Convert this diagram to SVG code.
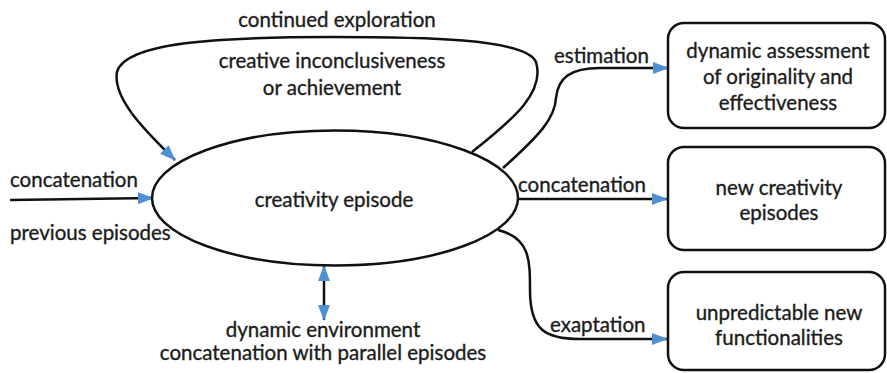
<svg xmlns="http://www.w3.org/2000/svg" width="887" height="373" viewBox="0 0 887 373">
<style>
text{font-family:Lato,"Liberation Sans",sans-serif;font-size:20.5px;fill:#1c1c1c;stroke:#1c1c1c;stroke-width:0.35px}
.m{text-anchor:middle}
.ln{fill:none;stroke:#111;stroke-width:2.5}
.box{fill:#fff;stroke:#111;stroke-width:2.5}
</style>
<defs>
<marker id="ah" markerWidth="16" markerHeight="12" refX="15" refY="6" orient="auto" markerUnits="userSpaceOnUse">
<path d="M0,0 L16,6 L0,12 Z" fill="#4f8fd2"/>
</marker>
<marker id="as" markerWidth="16" markerHeight="12" refX="15" refY="6" orient="auto-start-reverse" markerUnits="userSpaceOnUse">
<path d="M0,0 L16,6 L0,12 Z" fill="#4f8fd2"/>
</marker>
</defs>
<rect width="887" height="373" fill="#fff"/>
<g id="connectors">
<path class="ln" d="M472,152 C515,118 545,92 536,62 C526,38 420,37 330,37 C220,37 125,42 117,72 C112,100 150,135 175,160" marker-end="url(#ah)"/>
<path class="ln" d="M10,200 L153,198" marker-end="url(#ah)"/>
<path class="ln" d="M503,168 C540,135 555,118 556,98 C558,78 570,68 600,68 L668,68" marker-end="url(#ah)"/>
<path class="ln" d="M518,199 L667,199" marker-end="url(#ah)"/>
<path class="ln" d="M498,230 C530,238 530,260 530,290 C530,330 545,339 580,339 L667,339" marker-end="url(#ah)"/>
<path class="ln" d="M324,266 L324,320" marker-start="url(#as)" marker-end="url(#as)"/>
</g>
<g id="episode">
<ellipse cx="335" cy="198" rx="183" ry="67.5" fill="#fff" stroke="#111" stroke-width="2.5"/>
<text class="m" x="334" y="207">creativity episode</text>
</g>
<g id="assessment">
<rect class="box" x="668" y="23" width="217" height="105" rx="16"/>
<text class="m" x="778" y="58">dynamic assessment</text>
<text class="m" x="778" y="84">of originality and</text>
<text class="m" x="778" y="110">effectiveness</text>
</g>
<g id="new-episodes">
<rect class="box" x="668" y="147" width="217" height="103" rx="16"/>
<text class="m" x="779" y="195">new creativity</text>
<text class="m" x="779" y="220">episodes</text>
</g>
<g id="functionalities">
<rect class="box" x="668" y="272" width="217" height="98" rx="16"/>
<text class="m" x="779" y="320">unpredictable new</text>
<text class="m" x="779" y="345">functionalities</text>
</g>
<g id="labels">
<text class="m" x="337" y="27">continued exploration</text>
<text class="m" x="332" y="68">creative inconclusiveness</text>
<text class="m" x="332" y="95">or achievement</text>
<text x="10" y="187">concatenation</text>
<text x="10" y="240">previous episodes</text>
<text x="554" y="63">estimation</text>
<text x="518" y="192">concatenation</text>
<text x="550" y="332">exaptation</text>
<text class="m" x="323" y="337">dynamic environment</text>
<text class="m" x="323" y="360">concatenation with parallel episodes</text>
</g>
</svg>
